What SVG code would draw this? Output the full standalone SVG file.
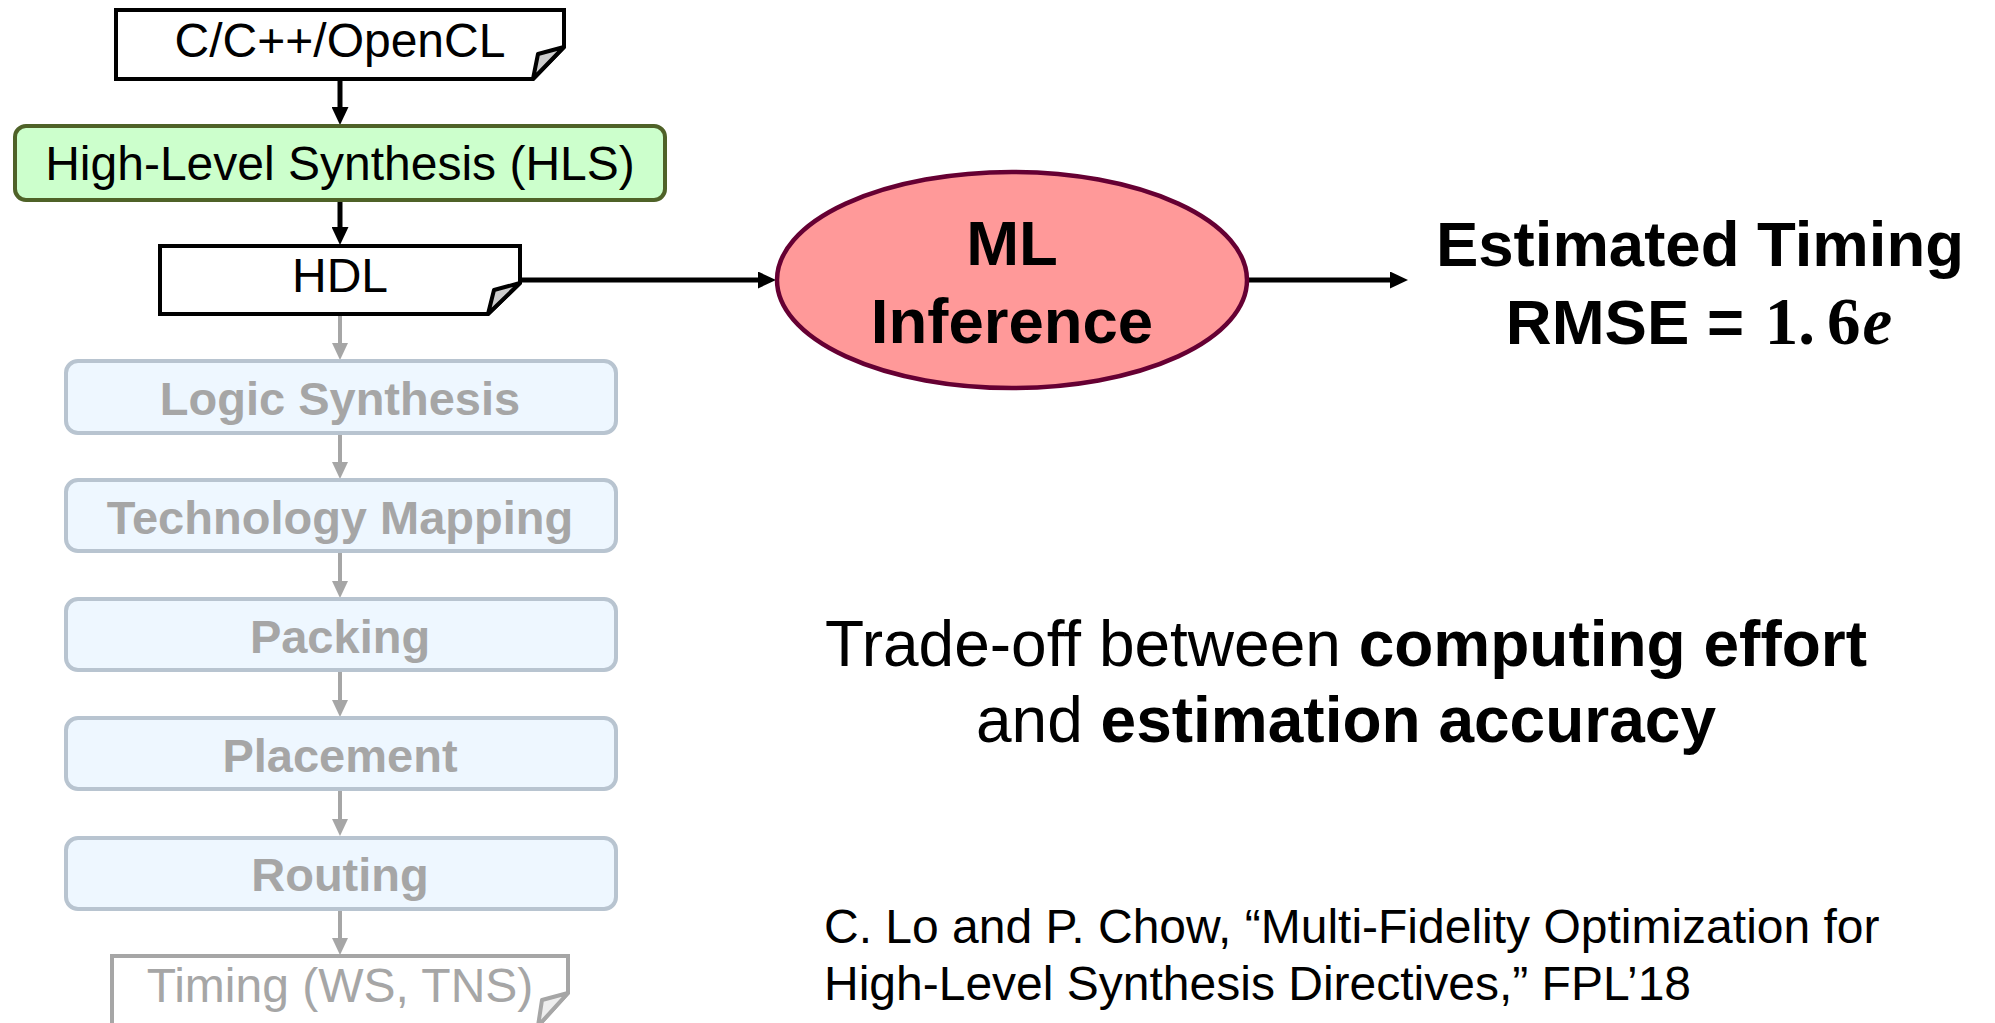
<svg xmlns="http://www.w3.org/2000/svg" width="1995" height="1023" viewBox="0 0 1995 1023">
  <style>
    text { font-family: "Liberation Sans", Arial, sans-serif; }
    .doc { fill: #ffffff; stroke: #000000; stroke-width: 4; stroke-linejoin: miter; }
    .fold { fill: #cccccc; stroke: #000000; stroke-width: 4; stroke-linejoin: round; }
    .doc-dim { fill: #ffffff; stroke: #a6a6a6; stroke-width: 4; }
    .fold-dim { fill: #eeeeee; stroke: #a6a6a6; stroke-width: 4; stroke-linejoin: round; }
    .hls { fill: #ccffcc; stroke: #4f6228; stroke-width: 4; }
    .step { fill: #eef7ff; stroke: #b8c4d0; stroke-width: 4; }
    .ml { fill: #ff9999; stroke: #660033; stroke-width: 4.5; }
    .lbl { font-size: 48px; fill: #000000; text-anchor: middle; }
    .lbl-dim { font-size: 47px; font-weight: bold; fill: #a6a6a6; text-anchor: middle; }
    .big { font-size: 63.5px; font-weight: bold; fill: #000000; text-anchor: middle; }
    .math { font-family: "Liberation Serif", "Times New Roman", serif; font-weight: bold; font-size: 67px; }
    .note { font-size: 64px; fill: #000000; text-anchor: middle; }
    .cite { font-size: 48px; fill: #000000; }
    .wire { fill: none; stroke: #000000; stroke-width: 5; }
    .wire-dim { fill: none; stroke: #a6a6a6; stroke-width: 4; }
  </style>
  <defs>
    <marker id="head" viewBox="0 0 18 17" refX="8" refY="8.5" markerWidth="18" markerHeight="17" markerUnits="userSpaceOnUse" orient="auto">
      <path d="M0,0 L18,8.5 L0,17 Z" fill="#000000"/>
    </marker>
    <marker id="head-dim" viewBox="0 0 17 16" refX="7" refY="8" markerWidth="17" markerHeight="16" markerUnits="userSpaceOnUse" orient="auto">
      <path d="M0,0 L17,8 L0,16 Z" fill="#a6a6a6"/>
    </marker>
  </defs>

  <!-- connectors -->
  <g id="connectors">
    <line class="wire" x1="340" y1="80" x2="340" y2="115" marker-end="url(#head)"/>
    <line class="wire" x1="340" y1="201" x2="340" y2="235" marker-end="url(#head)"/>
    <line class="wire" x1="520" y1="280" x2="766" y2="280" marker-end="url(#head)"/>
    <line class="wire" x1="1248" y1="280" x2="1398" y2="280" marker-end="url(#head)"/>
    <line class="wire-dim" x1="340" y1="316" x2="340" y2="350" marker-end="url(#head-dim)"/>
    <line class="wire-dim" x1="340" y1="434" x2="340" y2="469" marker-end="url(#head-dim)"/>
    <line class="wire-dim" x1="340" y1="552" x2="340" y2="588" marker-end="url(#head-dim)"/>
    <line class="wire-dim" x1="340" y1="671" x2="340" y2="707" marker-end="url(#head-dim)"/>
    <line class="wire-dim" x1="340" y1="790" x2="340" y2="826" marker-end="url(#head-dim)"/>
    <line class="wire-dim" x1="340" y1="910" x2="340" y2="945" marker-end="url(#head-dim)"/>
  </g>

  <!-- source document -->
  <g id="source">
    <path class="doc" d="M116,10 H564 V47 L533,79 H116 Z"/>
    <path class="fold" d="M564,47 L538,54 L533,79 Z"/>
    <text class="lbl" x="340" y="57">C/C++/OpenCL</text>
  </g>

  <g id="hls">
    <rect class="hls" x="15" y="126" width="650" height="74" rx="11"/>
    <text class="lbl" x="340" y="180">High-Level Synthesis (HLS)</text>
  </g>

  <g id="hdl">
    <path class="doc" d="M160,246 H520 V283 L488,314 H160 Z"/>
    <path class="fold" d="M520,283 L494,290 L488,314 Z"/>
    <text class="lbl" x="340" y="292">HDL</text>
  </g>

  <g id="logic-synthesis">
    <rect class="step" x="66" y="361" width="550" height="72" rx="12"/>
    <text class="lbl-dim" x="340" y="415">Logic Synthesis</text>
  </g>

  <g id="technology-mapping">
    <rect class="step" x="66" y="480" width="550" height="71" rx="12"/>
    <text class="lbl-dim" x="340" y="534">Technology Mapping</text>
  </g>

  <g id="packing">
    <rect class="step" x="66" y="599" width="550" height="71" rx="12"/>
    <text class="lbl-dim" x="340" y="653">Packing</text>
  </g>

  <g id="placement">
    <rect class="step" x="66" y="718" width="550" height="71" rx="12"/>
    <text class="lbl-dim" x="340" y="772">Placement</text>
  </g>

  <g id="routing">
    <rect class="step" x="66" y="838" width="550" height="71" rx="12"/>
    <text class="lbl-dim" x="340" y="891">Routing</text>
  </g>

  <g id="timing">
    <path class="doc-dim" d="M112,956 H568 V993 L538,1026 H112 Z"/>
    <path class="fold-dim" d="M568,993 L542,1000 L538,1026 Z"/>
    <text class="lbl" x="340" y="1002" style="fill:#a6a6a6">Timing (WS, TNS)</text>
  </g>

  <g id="ml-inference">
    <ellipse class="ml" cx="1012" cy="280" rx="235" ry="108"/>
    <text class="big" x="1012" y="265">ML</text>
    <text class="big" x="1012" y="343">Inference</text>
  </g>

  <g id="estimate">
    <text class="big" x="1700" y="266">Estimated Timing</text>
    <text class="big" x="1699" y="344">RMSE = <tspan class="math" dx="3">1.<tspan dx="12">6</tspan><tspan font-style="italic" dx="2">e</tspan></tspan></text>
  </g>

  <g id="tradeoff">
    <text class="note" x="1346" y="666">Trade-off between <tspan font-weight="bold">computing effort</tspan></text>
    <text class="note" x="1346" y="742">and <tspan font-weight="bold">estimation accuracy</tspan></text>
  </g>

  <g id="citation">
    <text class="cite" x="824" y="943">C. Lo and P. Chow, “Multi-Fidelity Optimization for</text>
    <text class="cite" x="824" y="1000">High-Level Synthesis Directives,” FPL’18</text>
  </g>
</svg>
